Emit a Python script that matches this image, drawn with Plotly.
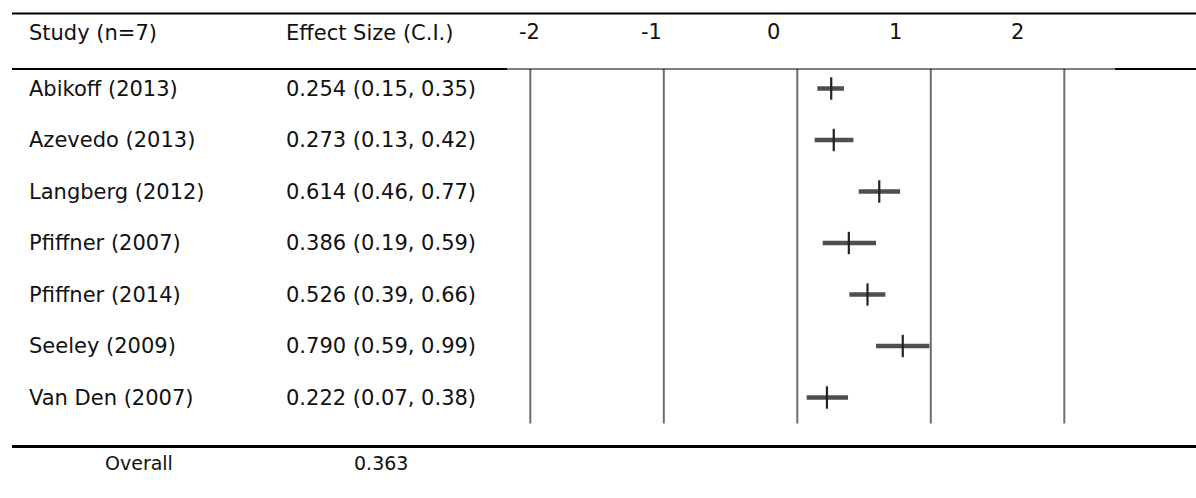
import plotly.graph_objects as go

# ---------------- data ----------------
studies = ["Abikoff (2013)", "Azevedo (2013)", "Langberg (2012)", "Pfiffner (2007)",
           "Pfiffner (2014)", "Seeley (2009)", "Van Den (2007)"]
effects = [0.254, 0.273, 0.614, 0.386, 0.526, 0.790, 0.222]
ci_low = [0.15, 0.13, 0.46, 0.19, 0.39, 0.59, 0.07]
ci_high = [0.35, 0.42, 0.77, 0.59, 0.66, 0.99, 0.38]
tick_values = [-2, -1, 0, 1, 2]
tick_labels = ["-2", "-1", "0", "1", "2"]
header_study = "Study (n=7)"
header_effect = "Effect Size (C.I.)"
overall_label = "Overall"
overall_value = "0.363"

# ---------------- layout geometry (pixels) ----------------
W, H = 1196, 498
X0_PX, UNIT_PX = 797.3, 133.5        # pixel of effect 0, pixels per unit
ROW0_PX, ROW_PX = 88.5, 51.5         # first row centre, row spacing
LABEL_X0_PX, LABEL_STEP_PX = 529, 122  # header tick labels (offset in original)

x_range = [-X0_PX / UNIT_PX, (W - X0_PX) / UNIT_PX]
y_range = [(H - ROW0_PX) / ROW_PX, -ROW0_PX / ROW_PX]

def px(x):
    return x / W

def py(y):
    return 1 - y / H

FONT = "'DejaVu Sans', Verdana, sans-serif"
FS = 21
TXT = "#111111"

fig = go.Figure()
rows = list(range(len(studies)))
fig.add_trace(go.Scatter(
    x=effects, y=rows, mode="markers",
    marker=dict(symbol="line-ns", size=16, color="#222222",
                line=dict(width=2.2, color="#222222")),
    error_x=dict(type="data", symmetric=False,
                 array=[h - e for e, h in zip(effects, ci_high)],
                 arrayminus=[e - l for e, l in zip(effects, ci_low)],
                 thickness=4.5, width=0, color="rgba(60,60,60,0.9)"),
    hoverinfo="skip", showlegend=False,
))

annotations = []
annotations.append(dict(x=px(27), y=py(33), xref="paper", yref="paper", text=header_study,
                        xanchor="left", yanchor="middle", showarrow=False,
                        font=dict(family=FONT, size=FS, color=TXT)))
annotations.append(dict(x=px(284), y=py(33), xref="paper", yref="paper", text=header_effect,
                        xanchor="left", yanchor="middle", showarrow=False,
                        font=dict(family=FONT, size=FS, color=TXT)))
for v, lab in zip(tick_values, tick_labels):
    xl = (LABEL_X0_PX + LABEL_STEP_PX * (v - tick_values[0]) - X0_PX) / UNIT_PX
    annotations.append(dict(x=xl, y=py(32), xref="x", yref="paper", text=lab,
                            xanchor="center", yanchor="middle", showarrow=False,
                            font=dict(family=FONT, size=FS, color=TXT)))
for i, (s, e, l, h) in enumerate(zip(studies, effects, ci_low, ci_high)):
    annotations.append(dict(x=px(27), y=i, xref="paper", yref="y", text=s,
                            xanchor="left", yanchor="middle", showarrow=False,
                            font=dict(family=FONT, size=FS, color=TXT)))
    annotations.append(dict(x=px(284), y=i, xref="paper", yref="y",
                            text=f"{e:.3f} ({l:.2f}, {h:.2f})",
                            xanchor="left", yanchor="middle", showarrow=False,
                            font=dict(family=FONT, size=FS, color=TXT)))
annotations.append(dict(x=px(103), y=py(463), xref="paper", yref="paper", text=overall_label,
                        xanchor="left", yanchor="middle", showarrow=False,
                        font=dict(family=FONT, size=19, color=TXT)))
annotations.append(dict(x=px(352), y=py(463), xref="paper", yref="paper", text=overall_value,
                        xanchor="left", yanchor="middle", showarrow=False,
                        font=dict(family=FONT, size=19, color=TXT)))

shapes = []
# reference vertical lines at each tick value
for v in tick_values:
    shapes.append(dict(type="line", xref="x", yref="paper", x0=v, x1=v,
                       y0=py(69), y1=py(423.5),
                       line=dict(color="#6e6e6e", width=2)))
# horizontal rules
shapes.append(dict(type="line", xref="paper", yref="paper", x0=px(12), x1=1,
                   y0=py(13.5), y1=py(13.5), line=dict(color="#000", width=2)))
shapes.append(dict(type="line", xref="paper", yref="paper", x0=px(12), x1=px(507),
                   y0=py(69), y1=py(69), line=dict(color="#000", width=2)))
shapes.append(dict(type="line", xref="paper", yref="paper", x0=px(507), x1=px(1115),
                   y0=py(69), y1=py(69), line=dict(color="#000", width=1)))
shapes.append(dict(type="line", xref="paper", yref="paper", x0=px(1115), x1=1,
                   y0=py(69), y1=py(69), line=dict(color="#000", width=2)))
shapes.append(dict(type="line", xref="paper", yref="paper", x0=px(12), x1=1,
                   y0=py(446.5), y1=py(446.5), line=dict(color="#000", width=3)))

fig.update_layout(
    width=W, height=H, margin=dict(l=0, r=0, t=0, b=0),
    paper_bgcolor="white", plot_bgcolor="white",
    xaxis=dict(range=x_range, visible=False, fixedrange=True),
    yaxis=dict(range=y_range, visible=False, fixedrange=True),
    annotations=annotations, shapes=shapes, showlegend=False,
)
fig.write_html("out.html")
